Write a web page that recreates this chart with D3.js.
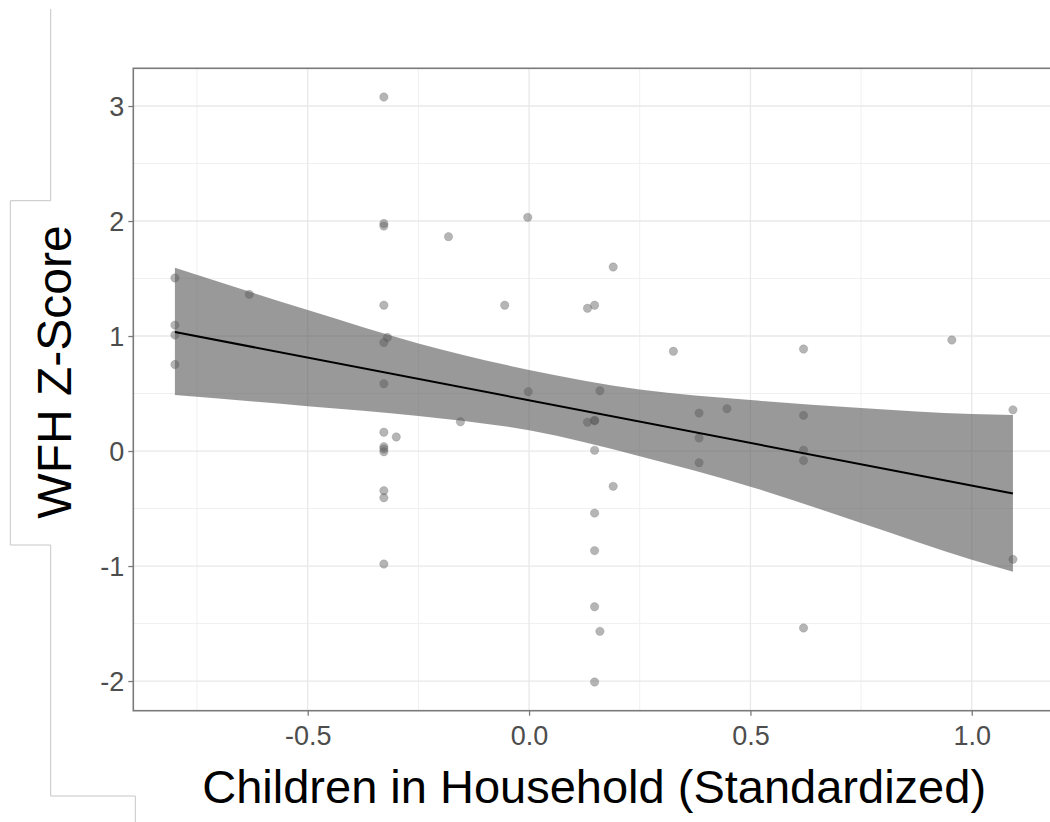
<!DOCTYPE html>
<html>
<head>
<meta charset="utf-8">
<script src="https://cdn.jsdelivr.net/npm/d3@7"></script>
<style>
  html, body { margin: 0; padding: 0; background: #fff; }
  svg { display: block; }
</style>
</head>
<body>
<svg id="chart" width="1050" height="822"></svg>
<script>
// ---- data ----
const pointX = [-0.800, -0.800, -0.800, -0.800, -0.632, -0.328, -0.328, -0.328, -0.328, -0.320,
                -0.328, -0.328, -0.328, -0.300, -0.328, -0.328, -0.328, -0.328, -0.328, -0.328,
                -0.182, -0.155, -0.055, -0.003, -0.002, 0.132, 0.148, 0.132, 0.148, 0.148,
                0.160, 0.190, 0.148, 0.190, 0.148, 0.148, 0.148, 0.160, 0.148, 0.326,
                0.384, 0.384, 0.384, 0.447, 0.620, 0.620, 0.620, 0.620, 0.620, 0.955,
                1.093, 1.093];
const pointY = [1.505, 1.095, 1.009, 0.752, 1.362, 3.078, 1.978, 1.956, 1.268, 0.987,
                0.944, 0.585, 0.163, 0.122, 0.037, 0.017, -0.006, -0.345, -0.406, -0.983,
                1.864, 0.254, 1.268, 2.032, 0.516, 1.241, 1.267, 0.250, 0.268, 0.262,
                0.524, 1.600, 0.006, -0.307, -0.540, -0.866, -1.354, -1.568, -2.009, 0.867,
                0.330, 0.113, -0.102, 0.368, 0.887, 0.310, 0.008, -0.082, -1.539, 0.965,
                0.358, -0.942];

// fitted regression line (endpoints) and confidence band
const fitX = [-0.800, 1.093];
const fitY = [1.035, -0.370];
const bandX     = [-0.800, -0.500, -0.250, 0.000, 0.250, 0.500, 0.750, 1.000, 1.093];
const bandUpper = [1.594, 1.226, 0.936, 0.705, 0.535, 0.443, 0.375, 0.322, 0.313];
const bandLower = [0.487, 0.390, 0.305, 0.180, -0.045, -0.310, -0.625, -0.945, -1.050];

const xTicks = [-0.5, 0.0, 0.5, 1.0];
const xTickLabels = ["-0.5", "0.0", "0.5", "1.0"];
const xMinor = [-0.75, -0.25, 0.25, 0.75];
const yTicks = [-2, -1, 0, 1, 2, 3];
const yTickLabels = ["-2", "-1", "0", "1", "2", "3"];
const yMinor = [-1.5, -0.5, 0.5, 1.5, 2.5];
const xTitle = "Children in Household (Standardized)";
const yTitle = "WFH Z-Score";

// ---- layout ----
const svg = d3.select("#chart");
const P = { left: 133.3, right: 1055, top: 68.3, bottom: 710.7 };

const x = d3.scaleLinear().domain([-0.894, 1.188]).range([P.left, P.right]);
const y = d3.scaleLinear().domain([-2.258, 3.328]).range([P.bottom, P.top]);

// bracket decoration on the left
svg.append("path")
  .attr("d", "M50.7,9 V200.7 H10.3 V545 H50.7 V796 H135.3 V822")
  .attr("fill", "none").attr("stroke", "#c6c6c6").attr("stroke-width", 1);

// panel background
const plot = svg.append("g");
plot.append("rect").attr("x", P.left).attr("y", P.top)
  .attr("width", P.right - P.left).attr("height", P.bottom - P.top)
  .attr("fill", "#fff");

// grid
const grid = plot.append("g");
grid.selectAll(".xmin").data(xMinor).join("line")
  .attr("x1", d => x(d)).attr("x2", d => x(d)).attr("y1", P.top).attr("y2", P.bottom)
  .attr("stroke", "#f0f0f0").attr("stroke-width", 1);
grid.selectAll(".ymin").data(yMinor).join("line")
  .attr("y1", d => y(d)).attr("y2", d => y(d)).attr("x1", P.left).attr("x2", P.right)
  .attr("stroke", "#f0f0f0").attr("stroke-width", 1);
grid.selectAll(".xmaj").data(xTicks).join("line")
  .attr("x1", d => x(d)).attr("x2", d => x(d)).attr("y1", P.top).attr("y2", P.bottom)
  .attr("stroke", "#e8e8e8").attr("stroke-width", 1.3);
grid.selectAll(".ymaj").data(yTicks).join("line")
  .attr("y1", d => y(d)).attr("y2", d => y(d)).attr("x1", P.left).attr("x2", P.right)
  .attr("stroke", "#e8e8e8").attr("stroke-width", 1.3);

// points
const pts = pointX.map((v, i) => ({ x: v, y: pointY[i] }));
plot.append("g").selectAll("circle").data(pts).join("circle")
  .attr("cx", d => x(d.x)).attr("cy", d => y(d.y)).attr("r", 4.2)
  .attr("fill", "#5a5a5a").attr("fill-opacity", 0.45)
  .attr("stroke", "#5a5a5a").attr("stroke-opacity", 0.25).attr("stroke-width", 0.8);

// confidence band
const band = bandX.map((v, i) => ({ x: v, lo: bandLower[i], hi: bandUpper[i] }));
plot.append("path").datum(band)
  .attr("d", d3.area().x(d => x(d.x)).y0(d => y(d.lo)).y1(d => y(d.hi)).curve(d3.curveMonotoneX))
  .attr("fill", "#555").attr("fill-opacity", 0.6);

// regression line
const fit = fitX.map((v, i) => ({ x: v, y: fitY[i] }));
plot.append("path").datum(fit)
  .attr("d", d3.line().x(d => x(d.x)).y(d => y(d.y)))
  .attr("fill", "none").attr("stroke", "#000").attr("stroke-width", 2);

// panel border
plot.append("rect").attr("x", P.left).attr("y", P.top)
  .attr("width", P.right - P.left).attr("height", P.bottom - P.top)
  .attr("fill", "none").attr("stroke", "#7a7a7a").attr("stroke-width", 1.6);

// axes
const xAxis = d3.axisBottom(x).tickValues(xTicks)
  .tickFormat((d, i) => xTickLabels[i]).tickSize(5).tickPadding(4);
const yAxis = d3.axisLeft(y).tickValues(yTicks)
  .tickFormat((d, i) => yTickLabels[i]).tickSize(5).tickPadding(4);

const gx = svg.append("g").attr("transform", `translate(0,${P.bottom})`).call(xAxis);
const gy = svg.append("g").attr("transform", `translate(${P.left},0)`).call(yAxis);
[gx, gy].forEach(g => {
  g.select(".domain").remove();
  g.selectAll(".tick line").attr("stroke", "#7a7a7a").attr("stroke-width", 1.3);
  g.selectAll(".tick text").attr("fill", "#4d4d4d")
    .style("font-family", "'Liberation Sans', Arial, sans-serif").style("font-size", "27px");
});
gx.selectAll(".tick text").attr("dy", "0.95em");
gy.selectAll(".tick text").attr("dy", "0.35em");

// titles
svg.append("text")
  .attr("x", (P.left + P.right) / 2).attr("y", 803)
  .attr("text-anchor", "middle")
  .style("font-family", "'Liberation Sans', Arial, sans-serif").style("font-size", "47px")
  .attr("fill", "#000").text(xTitle);

svg.append("text")
  .attr("transform", `translate(71,${372}) rotate(-90)`)
  .attr("text-anchor", "middle")
  .style("font-family", "'Liberation Sans', Arial, sans-serif").style("font-size", "48px")
  .attr("fill", "#000").text(yTitle);
</script>
</body>
</html>
